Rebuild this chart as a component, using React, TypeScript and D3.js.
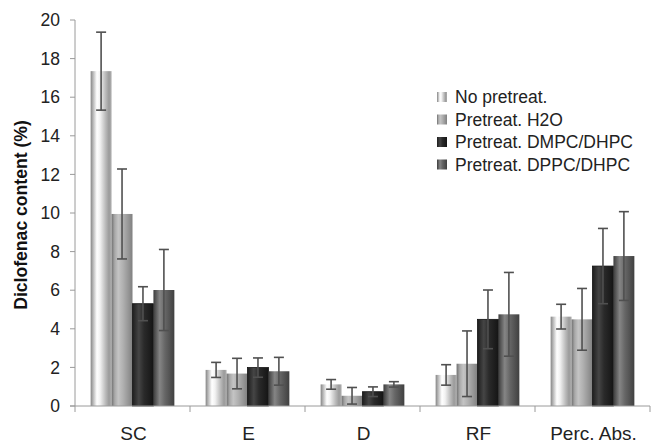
import React from "react";
import * as d3 from "d3";

const categories = ["SC", "E", "D", "RF", "Perc. Abs."];
const seriesNames = ["No pretreat.", "Pretreat. H2O", "Pretreat. DMPC/DHPC", "Pretreat. DPPC/DHPC"];
const noPretreat = [17.35, 1.87, 1.12, 1.61, 4.63];
const noPretreatErr = [2.02, 0.39, 0.25, 0.53, 0.64];
const pretreatH2O = [9.95, 1.68, 0.53, 2.19, 4.49];
const pretreatH2OErr = [2.33, 0.79, 0.43, 1.7, 1.6];
const pretreatDMPC = [5.3, 1.99, 0.74, 4.49, 7.25];
const pretreatDMPCErr = [0.88, 0.5, 0.25, 1.52, 1.95];
const pretreatDPPC = [6.01, 1.8, 1.12, 4.75, 7.77];
const pretreatDPPCErr = [2.1, 0.72, 0.14, 2.17, 2.3];
const yTicks = [0, 2, 4, 6, 8, 10, 12, 14, 16, 18, 20];

const values = [noPretreat, pretreatH2O, pretreatDMPC, pretreatDPPC];
const errors = [noPretreatErr, pretreatH2OErr, pretreatDMPCErr, pretreatDPPCErr];

const gradients: [number, string][][] = [
  [[0, "#858585"], [0.12, "#b8b8b8"], [0.3, "#ffffff"], [0.45, "#f2f2f2"], [0.7, "#bdbdbd"], [0.88, "#9a9a9a"], [1, "#b0b0b0"]],
  [[0, "#707070"], [0.15, "#a8a8a8"], [0.32, "#c4c4c4"], [0.55, "#b0b0b0"], [0.8, "#969696"], [1, "#808080"]],
  [[0, "#1e1e1e"], [0.3, "#454545"], [0.55, "#2a2a2a"], [1, "#151515"]],
  [[0, "#3c3c3c"], [0.3, "#858585"], [0.55, "#666666"], [1, "#404040"]],
];

export default function App() {
  const W = 651, H = 443;
  const left = 75, right = 650, top = 20, bottom = 406;
  const x0 = d3.scaleBand<string>().domain(categories).range([left, right]).paddingInner(0).paddingOuter(0);
  const bw = x0.bandwidth();
  const x1 = d3.scaleBand<string>().domain(seriesNames).range([bw * 0.136, bw * 0.864]).padding(0);
  const y = d3.scaleLinear().domain([0, 20]).range([bottom, top]);
  const font = "'Liberation Sans', Arial, sans-serif";
  const axisColor = "#9a9a9a";
  const errColor = "#505050";
  const capW = 10;

  return (
    <svg width={W} height={H} style={{ position: "absolute", left: 0, top: 0 }}>
      <defs>
        {gradients.map((g, i) => (
          <linearGradient key={i} id={`g${i}`} x1="0" x2="1" y1="0" y2="0">
            {g.map(([o, c], j) => (
              <stop key={j} offset={o} stopColor={c} />
            ))}
          </linearGradient>
        ))}
      </defs>
      <rect x={0} y={0} width={W} height={H} fill="#fff" />
      {/* y axis */}
      <line x1={left} x2={left} y1={y(20)} y2={bottom} stroke={axisColor} strokeWidth={1} />
      {yTicks.map((t) => (
        <g key={t}>
          <line x1={left - 5} x2={left} y1={y(t)} y2={y(t)} stroke={axisColor} />
          <text x={60} y={y(t)} dy="0.35em" textAnchor="end" fontFamily={font} fontSize={17.5} fill="#222">
            {t}
          </text>
        </g>
      ))}
      <text
        transform={`translate(21,${(top + bottom) / 2 + 2}) rotate(-90)`}
        textAnchor="middle"
        dy="0.35em"
        fontFamily={font}
        fontWeight="bold"
        fontSize={17.6}
        fill="#111"
      >
        Diclofenac content (%)
      </text>
      {/* bars */}
      {categories.map((c, ci) => (
        <g key={c} transform={`translate(${x0(c)},0)`}>
          {seriesNames.map((s, si) => (
            <rect
              key={s}
              x={x1(s)}
              y={y(values[si][ci])}
              width={x1.bandwidth()}
              height={bottom - y(values[si][ci])}
              fill={`url(#g${si})`}
              stroke={si === 2 ? "#111" : "none"}
              strokeWidth={si === 2 ? 0.8 : 0}
            />
          ))}
          {seriesNames.map((s, si) => {
            const cx = (x1(s) as number) + x1.bandwidth() / 2;
            const v = values[si][ci];
            const e = errors[si][ci];
            return (
              <g key={s} stroke={errColor} strokeWidth={1.6}>
                <line x1={cx} x2={cx} y1={y(v + e)} y2={y(Math.max(0, v - e))} />
                <line x1={cx - capW / 2} x2={cx + capW / 2} y1={y(v + e)} y2={y(v + e)} />
                <line x1={cx - capW / 2} x2={cx + capW / 2} y1={y(Math.max(0, v - e))} y2={y(Math.max(0, v - e))} />
              </g>
            );
          })}
        </g>
      ))}
      {/* x axis */}
      <line x1={left - 5} x2={right} y1={bottom} y2={bottom} stroke={axisColor} />
      {[...categories.map((c) => x0(c) as number), right].map((xv, i) => (
        <line key={i} x1={xv} x2={xv} y1={bottom} y2={bottom + 6} stroke={axisColor} />
      ))}
      {categories.map((c) => (
        <text
          key={c}
          x={(x0(c) as number) + bw / 2 + 1}
          y={440}
          textAnchor="middle"
          fontFamily={font}
          fontSize={19}
          fill="#222"
        >
          {c}
        </text>
      ))}
      {/* legend */}
      {seriesNames.map((s, i) => {
        const cy = 97 + i * 22.5;
        return (
          <g key={s}>
            <rect x={437} y={cy - 5} width={10} height={10} fill={`url(#g${i})`} />
            <text x={455} y={cy} dy="0.35em" fontFamily={font} fontSize={17.5} fill="#222">
              {s}
            </text>
          </g>
        );
      })}
    </svg>
  );
}
